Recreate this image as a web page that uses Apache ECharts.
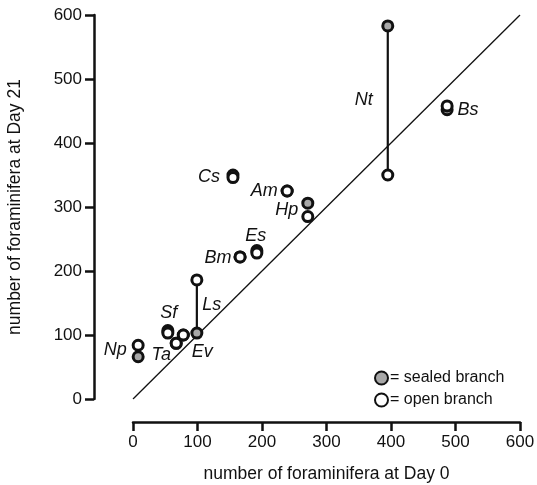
<!DOCTYPE html>
<html>
<head>
<meta charset="utf-8">
<script src="https://cdn.jsdelivr.net/npm/echarts@6/dist/echarts.min.js"></script>
<style>
html,body{margin:0;padding:0;background:#fff;}
#chart{width:537px;height:485px;}
</style>
</head>
<body>
<div id="chart"></div>
<script>

// data
var species     = ["Np","Sf","Ta","Ev","Ls","Bm","Es","Cs","Am","Hp","Nt","Bs"];
var day0        = [8, 54, 67, 78, 99, 166, 192, 155, 239, 271, 395, 487];
var sealedDay21 = [66, 107, 87, 100, 103, 222, 232, 350, 325, 306, 583, 452];
var openDay21   = [84, 103, 87, 100, 186, 222, 228, 346, 325, 285, 350, 458];
var linked      = ["Ls","Nt"];
var oneToOne    = [[0,0],[600,600]];

// where each name sits, in px from its open-branch point
var labelOffset = {
  Np:[-23,5], Sf:[1,-20], Ta:[-15,12], Ev:[19,17], Ls:[15,25], Bm:[-22,1],
  Es:[-1,-17], Cs:[-24,-1], Am:[-23,0], Hp:[-21,-7], Nt:[-24,-75], Bs:[21,4]
};

var font = "Liberation Sans";
var ink = "#111";

var sealedData = [];
var openData = [];
for(var i = 0; i < species.length; i++){
  sealedData.push([day0[i], sealedDay21[i]]);
  openData.push({
    value:[day0[i], openDay21[i]],
    label:{
      show:true,
      formatter:species[i],
      position:"inside",
      offset:labelOffset[species[i]],
      color:"#111",
      textBorderWidth:0,
      fontFamily:font,
      fontStyle:"italic",
      fontSize:18
    }
  });
}

var linkSeries = [];
linked.forEach(function(name){
  var k = species.indexOf(name);
  linkSeries.push({
    type:"line",
    silent:true,
    symbol:"none",
    z:2,
    lineStyle:{color:ink, width:2.2},
    data:[[day0[k], sealedDay21[k]], [day0[k], openDay21[k]]]
  });
});

var axisCommon = {
  type:"value",
  min:0,
  max:600,
  interval:100,
  splitLine:{show:false},
  axisLine:{show:true, onZero:false, lineStyle:{color:ink, width:2.5}},
  axisTick:{show:true, length:9, lineStyle:{color:ink, width:2.5}},
  axisLabel:{color:"#111", fontFamily:font, fontSize:17, margin:12},
  nameLocation:"middle",
  nameTextStyle:{color:"#111", fontFamily:font, fontSize:17.5}
};

var chart = echarts.init(document.getElementById("chart"));

var option = {
  animation:false,
  backgroundColor:"#fff",
  grid:{left:133, right:17, top:15, bottom:86, containLabel:false, outerBoundsMode:"none"},
  legend:{
    orient:"vertical",
    left:369,
    top:365,
    itemWidth:13,
    itemHeight:13,
    itemGap:6,
    icon:"circle",
    data:["sealed","open"],
    formatter:function(n){ return n == "sealed" ? "= sealed branch" : "= open branch"; },
    textStyle:{color:"#111", fontFamily:font, fontSize:16, padding:[0,0,0,-3]}
  },
  xAxis:Object.assign({}, axisCommon, {
    offset:23,
    name:"number of foraminifera at Day 0",
    nameGap:43
  }),
  yAxis:Object.assign({}, axisCommon, {
    offset:39,
    name:"number of foraminifera at Day 21",
    nameGap:70
  }),
  series:[
    {
      type:"line",
      silent:true,
      symbol:"none",
      z:1,
      lineStyle:{color:ink, width:1.3},
      data:oneToOne
    }
  ].concat(linkSeries).concat([
    {
      name:"sealed",
      type:"scatter",
      symbol:"circle",
      symbolSize:10,
      z:3,
      itemStyle:{color:"#a8a8a8", borderColor:ink, borderWidth:3, opacity:1},
      data:sealedData
    },
    {
      name:"open",
      type:"scatter",
      symbol:"circle",
      symbolSize:10,
      z:4,
      itemStyle:{color:"#fff", borderColor:ink, borderWidth:3, opacity:1},
      data:openData
    }
  ])
};

chart.setOption(option);

</script>
</body>
</html>
